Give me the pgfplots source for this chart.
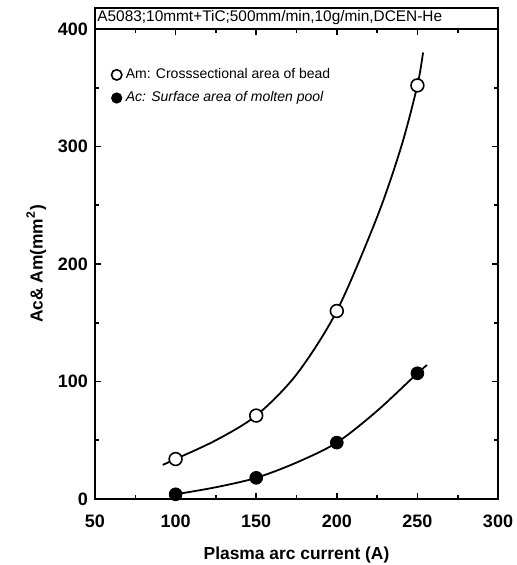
\documentclass[border=0pt]{standalone}
\usepackage{fontspec}
\setmainfont{Liberation Sans}
\usepackage{pgfplots}
\pgfplotsset{compat=1.18}

\begin{document}
\begin{tikzpicture}
\useasboundingbox (-47.5pt,-33pt) rectangle (211pt,249.5pt);
\begin{axis}[
    scale only axis,
    width=201.5pt, height=235pt,
    at={(0,0)}, anchor=south west,
    xmin=50, xmax=300, ymin=0, ymax=400,
    xtick={50,100,...,300}, ytick={0,100,...,400},
    minor xtick={75,125,...,275}, minor ytick={50,150,...,350},
    tick align=inside, tick pos=both,
    major tick length=3pt, minor tick length=2pt,
    axis line style={line width=1pt},
    every tick/.style={line width=0.8pt, black},
    /pgf/number format/assume math mode=true,
    ticklabel style={font=\fontsize{9}{10}\selectfont\bfseries},
    xticklabel style={yshift=-4.5pt},
    label style={font=\fontsize{8.7}{10}\selectfont\bfseries},
    xlabel={Plasma arc current (A)},
    ylabel={Ac\& Am(mm$^{\mathbf{2}}$)},
    xlabel style={yshift=-2.5pt},
    ylabel style={yshift=-1pt},
    clip=false,
    legend style={at={(0.035,0.93)}, anchor=north west, draw=none, fill=none,
        font=\fontsize{7}{8}\selectfont, row sep=1pt, inner sep=1pt},
    legend image post style={mark size=2.6pt},
    legend cell align=left,
]
% fitted curves
\addplot[black, line width=0.9pt, smooth, forget plot] coordinates {
    (92,29) (100,34) (125,50) (150,71) (175,106) (200,160) (225,240) (240,300) (250,352) (253.5,380)
};
\addplot[black, line width=0.9pt, smooth, forget plot] coordinates {
    (100,4) (125,10) (150,18) (175,31) (200,48) (225,75) (250,107) (256,114)
};
% data points
\addplot[only marks, mark=*, mark options={fill=white, line width=0.8pt}, mark size=3.2pt]
  coordinates {(100,34) (150,71) (200,160) (250,352)};
\addlegendentry{Am: Crosssectional area of bead}
\addplot[only marks, mark=*, mark options={fill=black}, mark size=3.2pt]
  coordinates {(100,4) (150,18) (200,48) (250,107)};
\addlegendentry{\itshape Ac: Surface area of molten pool}
% header strip
\draw[line width=1pt] (rel axis cs:0,1) rectangle ([yshift=10.5pt]rel axis cs:1,1);
\node[anchor=west, font=\fontsize{7.7}{8}\selectfont, inner sep=1pt]
  at ([yshift=5.5pt]rel axis cs:0,1) {A5083;10mmt+TiC;500mm/min,10g/min,DCEN-He};
\end{axis}
\end{tikzpicture}
\end{document}
